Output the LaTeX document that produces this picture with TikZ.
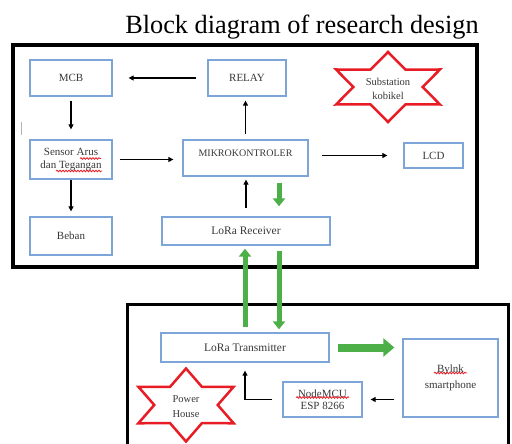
\documentclass[tikz,border=0pt]{standalone}
\usepackage{fontspec}
\setmainfont{Liberation Serif}
\usetikzlibrary{arrows.meta,decorations.pathmorphing}
\usepackage{xcolor}
\definecolor{boxblue}{RGB}{125,165,215}
\definecolor{sigreen}{RGB}{76,175,72}
\definecolor{starred}{RGB}{232,28,36}
\definecolor{txtgray}{RGB}{55,55,55}
\tikzset{
    blk/.style={
        draw=boxblue,
        line width=1.3pt,
        inner sep=1pt,
        align=center,
        text=txtgray,
        font=\fontsize{11}{12.5}\selectfont
    },
    startext/.style={
        align=center,
        text=txtgray,
        font=\fontsize{10.5}{14}\selectfont
    },
    starline/.style={draw=starred,line width=2.5pt,line join=miter},
    squig/.style={starred,line width=0.8pt,decorate,
        decoration={snake,amplitude=0.8pt,segment length=3pt}},
    arr/.style={line width=1.1pt,-{Triangle[length=5pt,width=5pt]}},
    garr/.style={sigreen,line width=5pt,-{Triangle[length=8pt,width=12pt]}},
    gbig/.style={sigreen,line width=8pt,-{Triangle[length=11pt,width=18pt]}}
}
\newcommand{\sixstar}[3]{
    \pgfmathsetmacro{\irx}{0.577*#2}
    \pgfmathsetmacro{\iry}{0.577*#3}
    \draw[starline,shift={(#1)}] (90:#2 and #3)
        \foreach \a in {150,210,270,330,390} {
            -- ({\a-30}:{\irx} and {\iry}) -- (\a:#2 and #3)
        } -- (60:{\irx} and {\iry}) -- cycle;
}

\begin{document}
\begin{tikzpicture}[x=1pt,y=-1pt]
        \useasboundingbox (0,0) rectangle (512,444);
        \node[font=\fontsize{26.3}{30}\selectfont] (title) at (302,27)
            {Block diagram of research design};
        % frames
        \draw[line width=4pt] (13,45) rectangle (477,267);
        \draw[line width=3pt] (127,446) -- (127,304) -- (508,304) -- (508,446);
        \draw[gray!60,line width=1pt] (21,122) -- (21,135);
        % stars
        \sixstar{388,87}{60}{35}
        \sixstar{186,405}{55}{36.5}
        \node[startext] (subst) at (388,89) {Substation\\kobikel};
        \node[startext,font=\fontsize{10.5}{15}\selectfont] (power) at (186,407) {Power\\House};
        % upper blocks
        \node[blk,minimum width=82pt,minimum height=36pt] (mcb) at (71,78) {MCB};
        \node[blk,minimum width=78pt,minimum height=36pt] (relay) at (247,78) {RELAY};
        \node[blk,minimum width=82pt,minimum height=39pt] (sensor) at (71,159.5)
            {Sensor Arus\\dan Tegangan};
        \node[blk,minimum width=125pt,minimum height=36pt,text depth=10pt,
            font=\fontsize{10}{12}\selectfont] (mikro) at (245.5,158) {MIKROKONTROLER};
        \node[blk,minimum width=59pt,minimum height=25pt] (lcd) at (433.5,155.5) {LCD};
        \node[blk,minimum width=82pt,minimum height=38pt] (beban) at (71,236) {Beban};
        \node[blk,minimum width=168pt,minimum height=28pt,
            font=\fontsize{11.5}{13}\selectfont] (rx) at (246,231) {LoRa Receiver};
        % lower blocks
        \node[blk,minimum width=168pt,minimum height=29pt,
            font=\fontsize{11.5}{13}\selectfont] (tx) at (245,347.5) {LoRa Transmitter};
        \node[blk,minimum width=95pt,minimum height=78pt] (bylnk) at (450.5,378)
            {Bylnk\\[3pt]smartphone};
        \node[blk,minimum width=79pt,minimum height=35pt] (nodemcu) at (322.5,399.5)
            {NodeMCU\\ESP 8266};
        % spelling marks
        \draw[squig] (80,158.5) -- (101,158.5);
        \draw[squig] (56,171) -- (102,171);
        \draw[squig] (296,397.5) -- (349,397.5);
        \draw[squig] (434,373) -- (467,373);
        % black connectors
        \draw[arr,shorten <=11pt,shorten >=16pt] (relay.west) -- (mcb.east);
        \draw[arr,shorten <=4pt,shorten >=10pt] (mcb.south) -- (sensor.north);
        \draw[arr,shorten <=5pt,shorten >=4pt] (mikro.north) -- (mikro.north |- relay.south);
        \draw[arr,shorten <=7pt,shorten >=9pt] (sensor.east) -- (sensor.east -| mikro.west);
        \draw[arr,shorten <=13pt,shorten >=16pt] (lcd.west -| mikro.east) -- (lcd.west);
        \draw[arr,shorten >=5pt] (sensor.south) -- (beban.north);
        \draw[arr,shorten <=8pt,shorten >=3pt] (rx.north) -- (rx.north |- mikro.south);
        \draw[arr,shorten <=8pt,shorten >=8pt] (bylnk.west |- nodemcu.east) -- (nodemcu.east);
        \draw[arr,shorten <=10pt,shorten >=8pt] (nodemcu.west) -| (tx.south);
        % green links
        \draw[garr,shorten <=6pt,shorten >=10pt] ([xshift=33.5pt]mikro.south)
            -- ([xshift=33.5pt]mikro.south |- rx.north);
        \draw[garr,shorten <=5pt,shorten >=3pt] (tx.north) -- (tx.north |- rx.south);
        \draw[garr,shorten <=5pt,shorten >=3pt] ([xshift=33pt]rx.south)
            -- ([xshift=33pt]rx.south |- tx.north);
        \draw[gbig,shorten <=8pt,shorten >=8pt] (tx.east) -- (tx.east -| bylnk.west);
\end{tikzpicture}
\end{document}
